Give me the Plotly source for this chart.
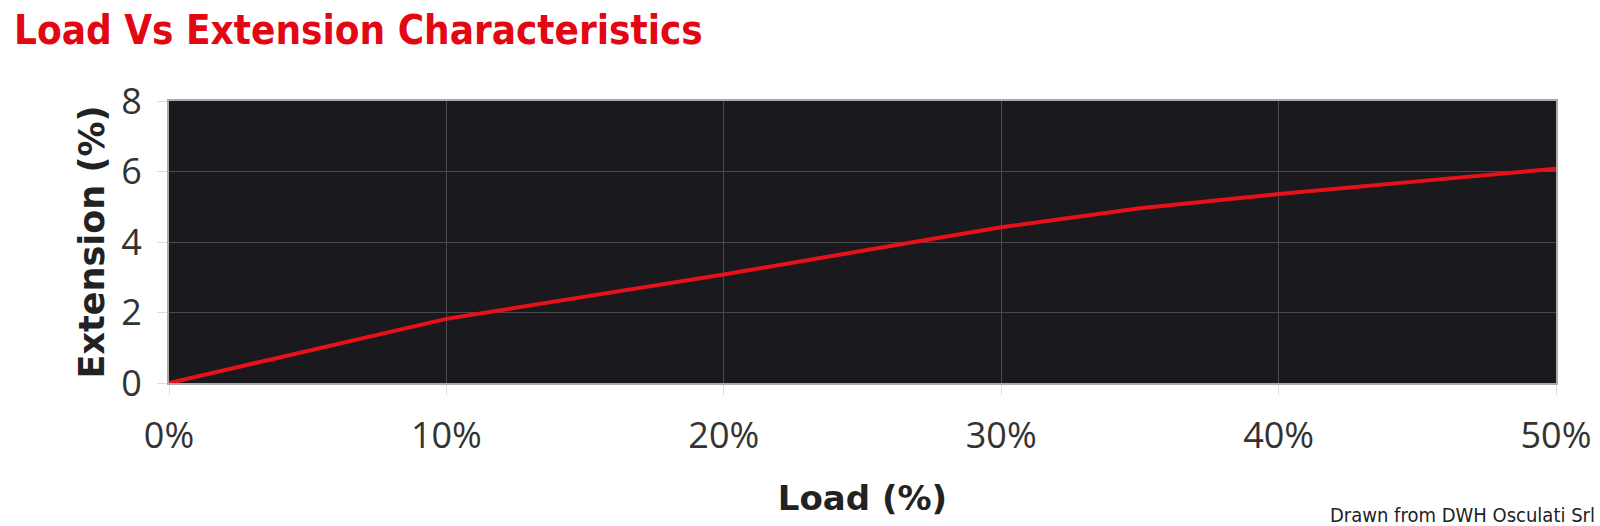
import plotly.graph_objects as go

load_pct = [0, 5, 10, 15, 20, 25, 30, 35, 40, 45, 50]
extension_pct = [0, 0.92, 1.82, 2.45, 3.08, 3.75, 4.42, 4.96, 5.36, 5.72, 6.08]
x_ticks = [0, 10, 20, 30, 40, 50]
x_tick_labels = ["0%", "10%", "20%", "30%", "40%", "50%"]
y_ticks = [0, 2, 4, 6, 8]

fig = go.Figure()
fig.add_trace(go.Scatter(x=load_pct, y=extension_pct, mode="lines",
                         line=dict(color="#e8111b", width=4), showlegend=False))

fig.update_layout(
    width=1600, height=526,
    paper_bgcolor="white", plot_bgcolor="#1a191d",
    margin=dict(l=169, r=44, t=101, b=143),
    title=dict(text="<b>Load Vs Extension Characteristics</b>", x=0.00875, xanchor="left",
               y=0.9696, yanchor="top",
               font=dict(family="DejaVu Sans Condensed", size=40, color="#e30613")),
    xaxis=dict(range=[0, 50], tickvals=x_ticks, ticktext=x_tick_labels,
               showgrid=True, gridcolor="#4a4a4e", gridwidth=1, automargin=False,
               showline=True, linecolor="#aaaaaa", linewidth=2, mirror=True,
               ticks="outside", ticklen=10, tickcolor="#dddddd",
               ticklabelstandoff=10, zeroline=False,
               tickfont=dict(family="Open Sans", size=36, color="#333333"),
               title=dict(text="<b>Load (%)</b>", standoff=28,
                          font=dict(family="DejaVu Sans", size=34, color="#222222"))),
    yaxis=dict(range=[0, 8], tickvals=y_ticks, automargin=False,
               showgrid=True, gridcolor="#4a4a4e", gridwidth=1,
               showline=True, linecolor="#aaaaaa", linewidth=2, mirror=True,
               ticks="outside", ticklen=10, tickcolor="#dddddd",
               ticklabelstandoff=8, zeroline=False,
               tickfont=dict(family="Open Sans", size=36, color="#333333"),
               title=dict(text="<b>Extension (%)</b>", standoff=6,
                          font=dict(family="DejaVu Sans", size=35, color="#222222"))),
    annotations=[dict(text="Drawn from DWH Osculati Srl", x=1.0, xref="paper",
                      xanchor="right", y=0, yref="paper", yanchor="middle",
                      yshift=-132, xshift=41, showarrow=False,
                      font=dict(family="DejaVu Sans Condensed", size=20, color="#222222"))],
)

fig.write_html("out.html", config={"displayModeBar": False},
               post_script="document.body.style.margin='0';document.body.style.overflow='hidden';")
